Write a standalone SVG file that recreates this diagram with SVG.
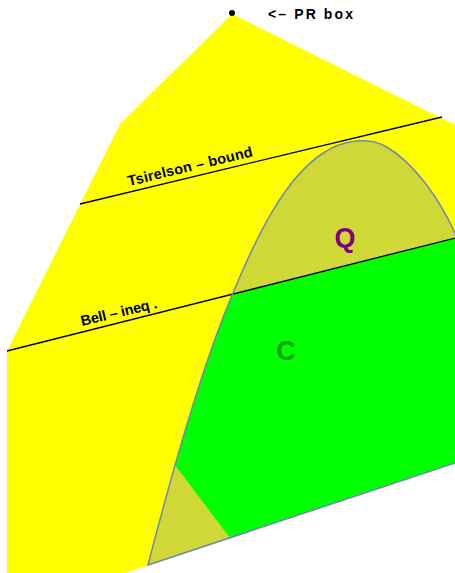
<svg xmlns="http://www.w3.org/2000/svg" width="455" height="573" viewBox="0 0 455 573">
<style>
.lbl{font-family:"Liberation Sans",Arial,sans-serif;font-weight:bold;fill:#000}
.bound{stroke:#000;stroke-width:1.3;fill:none}
.qline{stroke:#6f87b5;stroke-width:1.5;fill:none}
</style>
<defs>
<clipPath id="qclip"><path d="M148,565 C170,480 200,370 233,293 C255,240 285,176 325,152 C340,142 365,136 385,146 C410,160 440,195 460,245 L460,461.3 Z"/></clipPath>
</defs>
<rect width="455" height="573" fill="#fff"/>
<g id="ns-region">
<polygon points="232,14 460,127.5 460,461.3 124,573.5 124,580 7,580 7,351 120,124" fill="#ffff00"/>
</g>
<g id="quantum-set">
<path d="M148,565 C170,480 200,370 233,293 C255,240 285,176 325,152 C340,142 365,136 385,146 C410,160 440,195 460,245 L460,461.3 Z" fill="#d0d838"/>
</g>
<g id="classical-set" clip-path="url(#qclip)">
<polygon points="150,315.2 460,237.2 460,470 230,538 175,465 150,432" fill="#00ff00"/>
</g>
<g id="connectors">
<line class="bound" x1="80" y1="204" x2="442" y2="117"/>
<line class="bound" x1="7" y1="351" x2="460" y2="236.8"/>
<path class="qline" d="M460,461.3 L148,565 C170,480 200,370 233,293 C255,240 285,176 325,152 C340,142 365,136 385,146 C410,160 440,195 460,245"/>
</g>
<g id="pr-box">
<circle cx="232" cy="13" r="3" fill="#000"/>
<text class="lbl" x="268" y="19" font-size="14" textLength="85" lengthAdjust="spacing">&lt;– PR  box</text>
</g>
<g id="tsirelson-label">
<text class="lbl" font-size="14.5" transform="translate(129,186) rotate(-13.5)" textLength="128" lengthAdjust="spacing">Tsirelson – bound</text>
</g>
<g id="bell-label">
<text class="lbl" font-size="14.5" transform="translate(82,326) rotate(-13.5)" textLength="78" lengthAdjust="spacing">Bell – ineq .</text>
</g>
<g id="q-label">
<text x="345" y="247" font-family="Liberation Sans,Arial,sans-serif" font-weight="bold" font-size="27" fill="#800080" text-anchor="middle">Q</text>
</g>
<g id="c-label">
<text x="286" y="360" font-family="Liberation Sans,Arial,sans-serif" font-weight="bold" font-size="27" fill="#11a011" text-anchor="middle">C</text>
</g>
</svg>
